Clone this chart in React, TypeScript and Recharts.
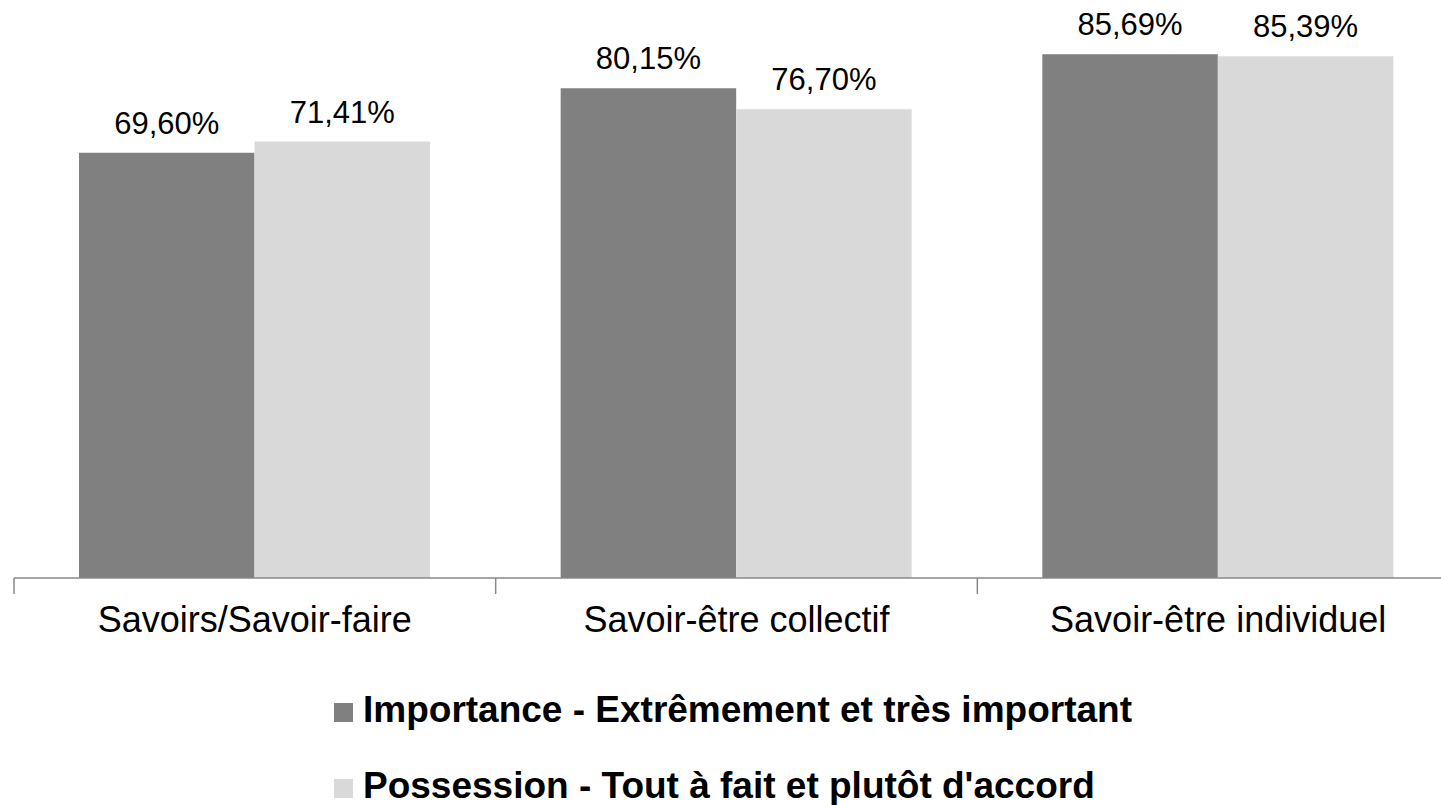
import React from 'react';
import { BarChart, Bar, XAxis, YAxis, Legend, LabelList } from 'recharts';

const categories = ['Savoirs/Savoir-faire', 'Savoir-être collectif', 'Savoir-être individuel'];
const importance = [69.6, 80.15, 85.69];
const possession = [71.41, 76.7, 85.39];
const seriesNames = {
  importance: 'Importance - Extrêmement et très important',
  possession: "Possession - Tout à fait et plutôt d'accord",
};

const data = categories.map((name, i) => ({
  name,
  importance: importance[i],
  possession: possession[i],
}));

const FONT = '"Liberation Sans", Arial, Helvetica, sans-serif';
const AXIS_GREY = '#898989';

const formatPct = (v: number) => `${v.toFixed(2).replace('.', ',')}%`;

// category label centred in its band, tick mark on the band boundaries
const CategoryTick = (props: any) => {
  const { x, y, payload, index, visibleTicksCount } = props;
  const half = payload?.offset ?? 240.8;
  const last = index === (visibleTicksCount ?? categories.length) - 1;
  return (
    <g>
      <line x1={x - half} y1={y} x2={x - half} y2={y + 16} stroke={AXIS_GREY} strokeWidth={1.5} />
      {last && <line x1={x + half} y1={y} x2={x + half} y2={y + 16} stroke={AXIS_GREY} strokeWidth={1.5} />}
      <text x={x} y={y + 54} textAnchor="middle" fontSize={36} fill="#000" fontFamily={FONT}>
        {payload.value}
      </text>
    </g>
  );
};

const LegendBlock = (props: any) => {
  const { payload = [] } = props;
  return (
    <div style={{ fontFamily: FONT, fontWeight: 'bold', fontSize: 37, color: '#000' }}>
      {payload.map((entry: any) => (
        <div key={entry.value} style={{ position: 'relative', height: 76, lineHeight: '78px', paddingLeft: 29, whiteSpace: 'nowrap' }}>
          <span style={{ position: 'absolute', left: 0, top: 32, width: 19, height: 19, background: entry.color }} />
          {entry.value}
        </div>
      ))}
    </div>
  );
};

export default function App() {
  return (
    <div style={{ position: 'absolute', left: 0, top: 0, width: 1441, height: 805, overflow: 'hidden', background: '#fff' }}>
      <BarChart
        width={1475}
        height={805}
        data={data}
        margin={{ top: 28, right: 16, left: 14, bottom: 167 }}
        barGap={0}
      >
        <XAxis
          dataKey="name"
          height={60}
          axisLine={{ stroke: AXIS_GREY, strokeWidth: 1.5 }}
          tickLine={false}
          tickSize={0}
          tickMargin={0}
          interval={0}
          tick={<CategoryTick />}
        />
        <YAxis hide domain={[0, 90]} />
        <Legend
          layout="vertical"
          align="center"
          verticalAlign="middle"
          content={<LegendBlock />}
          wrapperStyle={{ top: 671, left: 334, width: 900, height: 152 }}
        />
        <Bar dataKey="importance" name={seriesNames.importance} fill="#808080" barSize={175.5} isAnimationActive={false}>
          <LabelList dataKey="importance" position="top" offset={19} formatter={formatPct} fontSize={31} fill="#000" fontFamily={FONT} />
        </Bar>
        <Bar dataKey="possession" name={seriesNames.possession} fill="#d9d9d9" barSize={175.5} isAnimationActive={false}>
          <LabelList dataKey="possession" position="top" offset={19} formatter={formatPct} fontSize={31} fill="#000" fontFamily={FONT} />
        </Bar>
      </BarChart>
    </div>
  );
}
